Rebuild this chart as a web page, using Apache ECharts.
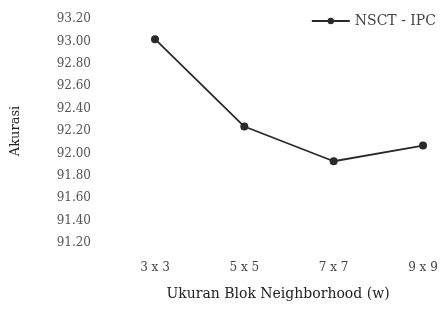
<!DOCTYPE html>
<html><head><meta charset="utf-8">
<script src="https://cdn.jsdelivr.net/npm/echarts@6/dist/echarts.min.js"></script>
<style>html,body{margin:0;padding:0;background:#fff}#c{width:445px;height:322px}</style>
</head><body><div id="c"></div>
<script>
const categories = ['3 x 3', '5 x 5', '7 x 7', '9 x 9'];
const seriesName = 'NSCT - IPC';
const values = [93.02, 92.24, 91.93, 92.07];
const yMin = 91.2, yMax = 93.2, yStep = 0.2;
const font = '"DejaVu Serif", "Liberation Serif", serif';

const chart = echarts.init(document.getElementById('c'));
chart.setOption({
  animation: false,
  backgroundColor: '#fff',
  textStyle: { fontFamily: font },
  grid: { left: 155, right: 22, top: 19, bottom: 79 },
  legend: {
    data: [seriesName], top: 9, right: 4, itemWidth: 38, itemHeight: 8, itemGap: 8,
    textStyle: { fontFamily: font, fontSize: 14, color: '#444' }
  },
  xAxis: {
    type: 'category', data: categories, boundaryGap: false,
    axisLine: { show: false }, axisTick: { show: false }, splitLine: { show: false },
    axisLabel: { margin: 19, fontFamily: font, fontSize: 12, color: '#444' },
    name: 'Ukuran Blok Neighborhood (w)', nameLocation: 'middle', nameGap: 44,
    nameTextStyle: { fontFamily: font, fontSize: 14, color: '#222', padding: [0, 22, 0, 0] }
  },
  yAxis: {
    type: 'value', min: yMin, max: yMax, interval: yStep,
    axisLine: { show: false }, axisTick: { show: false }, splitLine: { show: false },
    axisLabel: { margin: 64, fontFamily: font, fontSize: 12, color: '#555', formatter: v => v.toFixed(2) },
    name: 'Akurasi', nameLocation: 'middle', nameGap: 127, nameRotate: 90,
    nameTextStyle: { fontFamily: font, fontSize: 13, color: '#222', padding: [0, 0, 6, 0] }
  },
  series: [{
    name: seriesName, type: 'line', data: values,
    symbol: 'circle', symbolSize: 8,
    lineStyle: { color: '#2a2a2a', width: 1.8 },
    itemStyle: { color: '#2a2a2a' }
  }]
});
</script></body></html>
